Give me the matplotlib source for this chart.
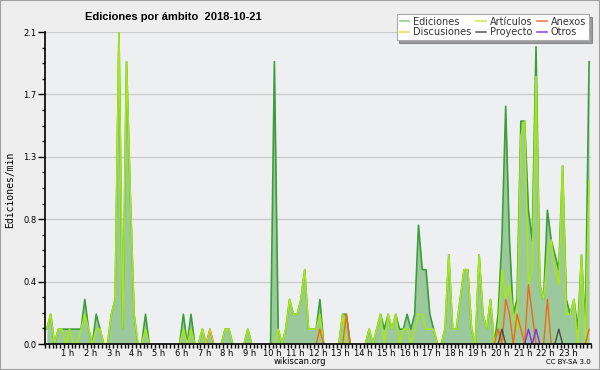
import numpy as np
import matplotlib
matplotlib.use("Agg")
import matplotlib.pyplot as plt
from matplotlib.lines import Line2D
from matplotlib.patches import Rectangle

# 10-minute bins over the day, edits/min
ediciones = [0.1, 0.2, 0, 0.1, 0.1, 0.1, 0.1, 0.1, 0.1, 0.1, 0.3, 0.1,
             0, 0.2, 0.1, 0, 0, 0.2, 0.3, 2.1, 0.1, 1.9, 1.0, 0.2,
             0, 0, 0.2, 0, 0, 0, 0, 0, 0, 0, 0, 0,
             0.2, 0, 0.2, 0, 0, 0.1, 0, 0.1, 0, 0, 0, 0.1,
             0.1, 0, 0, 0, 0, 0.1, 0, 0, 0, 0, 0, 0,
             1.9, 0.1, 0, 0.1, 0.3, 0.2, 0.2, 0.3, 0.5, 0.1, 0.1, 0.1,
             0.3, 0, 0, 0, 0, 0, 0.2, 0.2, 0, 0, 0, 0,
             0, 0.1, 0, 0.1, 0.2, 0.1, 0.2, 0.1, 0.2, 0.1, 0.1, 0.2,
             0.1, 0.2, 0.8, 0.5, 0.5, 0.2, 0.1, 0, 0, 0.1, 0.6, 0.1,
             0.1, 0.3, 0.5, 0.5, 0.1, 0, 0.6, 0.2, 0.1, 0.3, 0, 0.2,
             0.7, 1.6, 0.7, 0.2, 0.3, 1.5, 1.5, 0.9, 0.7, 2.0, 0.4, 0.3,
             0.9, 0.7, 0.6, 0.5, 1.2, 0.3, 0.2, 0.3, 0.1, 0.6, 0.1, 1.9]

articulos = [0.1, 0.2, 0, 0.1, 0.1, 0, 0.1, 0, 0, 0.1, 0.2, 0.1,
             0, 0.1, 0.1, 0, 0, 0.2, 0.3, 2.1, 0.1, 1.9, 1.0, 0.2,
             0, 0, 0.1, 0, 0, 0, 0, 0, 0, 0, 0, 0,
             0.1, 0, 0.1, 0, 0, 0.1, 0, 0, 0, 0, 0, 0.1,
             0.1, 0, 0, 0, 0, 0.1, 0, 0, 0, 0, 0, 0,
             0, 0.1, 0, 0.1, 0.3, 0.2, 0.2, 0.3, 0.5, 0.1, 0.1, 0.1,
             0.2, 0, 0, 0, 0, 0, 0.2, 0, 0, 0, 0, 0,
             0, 0.1, 0, 0.1, 0.2, 0, 0.2, 0.1, 0.2, 0, 0.1, 0.1,
             0, 0.1, 0.2, 0.2, 0.1, 0.1, 0.1, 0, 0, 0.1, 0.6, 0.1,
             0.1, 0.3, 0.5, 0.5, 0.1, 0, 0.6, 0.2, 0.1, 0.3, 0, 0.1,
             0.5, 0.3, 0.4, 0.2, 0.1, 1.4, 1.5, 0.4, 0.5, 1.8, 0.4, 0.3,
             0.6, 0.7, 0.5, 0.4, 1.2, 0.2, 0.2, 0.3, 0, 0.6, 0, 1.1]

# sparse series: {bin: value}
anexos = {72: 0.1, 79: 0.2, 119: 0.1, 121: 0.3, 122: 0.2, 124: 0.2, 125: 0.1,
          127: 0.4, 128: 0.2, 132: 0.3, 143: 0.1}
discusiones = {43: 0.1}
proyecto = {120: 0.1, 135: 0.1}
otros = {127: 0.1, 129: 0.1}

hour_labels = ["%d h" % h for h in range(1, 24)]
ytick_vals = [0, 0.42, 0.84, 1.26, 1.68, 2.1]

n = len(ediciones)
x = (np.arange(n) + 0.5) / 6.0


def dense(d):
    v = np.zeros(n)
    for k, val in d.items():
        v[k] = val
    return v


def hide_flat_zero(v):
    # don't draw a line lying along the baseline
    v = np.asarray(v, dtype=float).copy()
    z = v == 0
    left = np.r_[True, z[:-1]]
    right = np.r_[z[1:], True]
    out = v.copy()
    out[z & left & right] = np.nan
    return out


bg = "#eeeeee"
fig = plt.figure(figsize=(6, 3.7), dpi=100, facecolor=bg)
ax = fig.add_axes([45 / 600, 1 - 344 / 370, 546 / 600, 312 / 370])
ax.set_facecolor("#eeeff1")

ed = np.array(ediciones, dtype=float)
ax.fill_between(x, 0, ed, color="#9cc99c", lw=0, zorder=2)
ax.plot(x, hide_flat_zero(ed), color="#3a9e3a", lw=1.2, zorder=3)
ax.plot(x, hide_flat_zero(articulos), color="#a6e61a", lw=1.2, zorder=4)
ax.plot(x, hide_flat_zero(dense(anexos)), color="#f26a10", lw=1.0, zorder=5)
ax.plot(x, hide_flat_zero(dense(discusiones)), color="#f2c418", lw=1.0, zorder=5)
ax.plot(x, hide_flat_zero(dense(proyecto)), color="#4a4a4a", lw=1.0, zorder=5)
ax.plot(x, hide_flat_zero(dense(otros)), color="#8a2be2", lw=1.0, zorder=5)

ax.set_xlim(0, 24)
ax.set_ylim(0, 2.1)
ax.set_yticks(ytick_vals)
ax.set_yticklabels(["%.1f" % v for v in ytick_vals])
ax.set_yticks(np.arange(0, 2.1, 0.105), minor=True)
ax.set_xticks(range(1, 24))
ax.set_xticklabels(hour_labels)
ax.set_xticks(np.arange(0, 24.01, 1 / 6), minor=True)
ax.grid(axis="y", color="#cccccc", lw=1, zorder=1)
ax.set_axisbelow(True)

for s in ["top", "right"]:
    ax.spines[s].set_visible(False)
for s in ["left", "bottom"]:
    ax.spines[s].set_color("black")
    ax.spines[s].set_linewidth(1.2)
    ax.spines[s].set_zorder(6)

ax.tick_params(axis="x", which="both", length=3, width=1, pad=0.5, labelsize=6)
ax.tick_params(axis="y", which="major", length=5, width=1, pad=1, labelsize=6)
ax.tick_params(axis="y", which="minor", length=2.5, width=1)

fig.text(10 / 600, 1 - 190 / 370, "Ediciones/min", rotation=90, ha="center", va="center",
         family="DejaVu Sans Mono", fontsize=7)
fig.text(85 / 600, 1 - 17 / 370, "Ediciones por ámbito  2018-10-21", ha="left", va="center",
         fontsize=8, fontweight="bold", family=["Liberation Sans Narrow", "Liberation Sans"])
fig.text(300 / 600, 1 - 362 / 370, "wikiscan.org", ha="center", va="center", fontsize=6)
fig.text(591 / 600, 1 - 362 / 370, "CC BY-SA 3.0", ha="right", va="center", fontsize=5)

handles = [Line2D([], [], color="#8fd08f", lw=1.2),
           Line2D([], [], color="#f5d860", lw=1.2),
           Line2D([], [], color="#c8ee60", lw=1.2),
           Line2D([], [], color="#666666", lw=1.2),
           Line2D([], [], color="#ee8050", lw=1.2),
           Line2D([], [], color="#9a4aee", lw=1.2)]
labels = ["Ediciones", "Discusiones", "Artículos", "Proyecto", "Anexos", "Otros"]
leg = fig.legend(handles, labels, ncol=3, loc="upper right",
                 bbox_to_anchor=(594 / 600, 1 - 9 / 370), fontsize=7,
                 handlelength=1.0, handletextpad=0.4, columnspacing=0.5,
                 labelspacing=0.05, borderpad=0.3, fancybox=False, shadow=True,
                 framealpha=1, edgecolor="#aaaaaa")
leg.get_frame().set_linewidth(0.8)
for t in leg.get_texts():
    t.set_color("#333333")

fig.patches.append(Rectangle((0, 0), 1, 1, transform=fig.transFigure, fill=False,
                             edgecolor="#a0a0a0", lw=1.5))

fig.savefig("out.png", dpi=100, facecolor=bg)
